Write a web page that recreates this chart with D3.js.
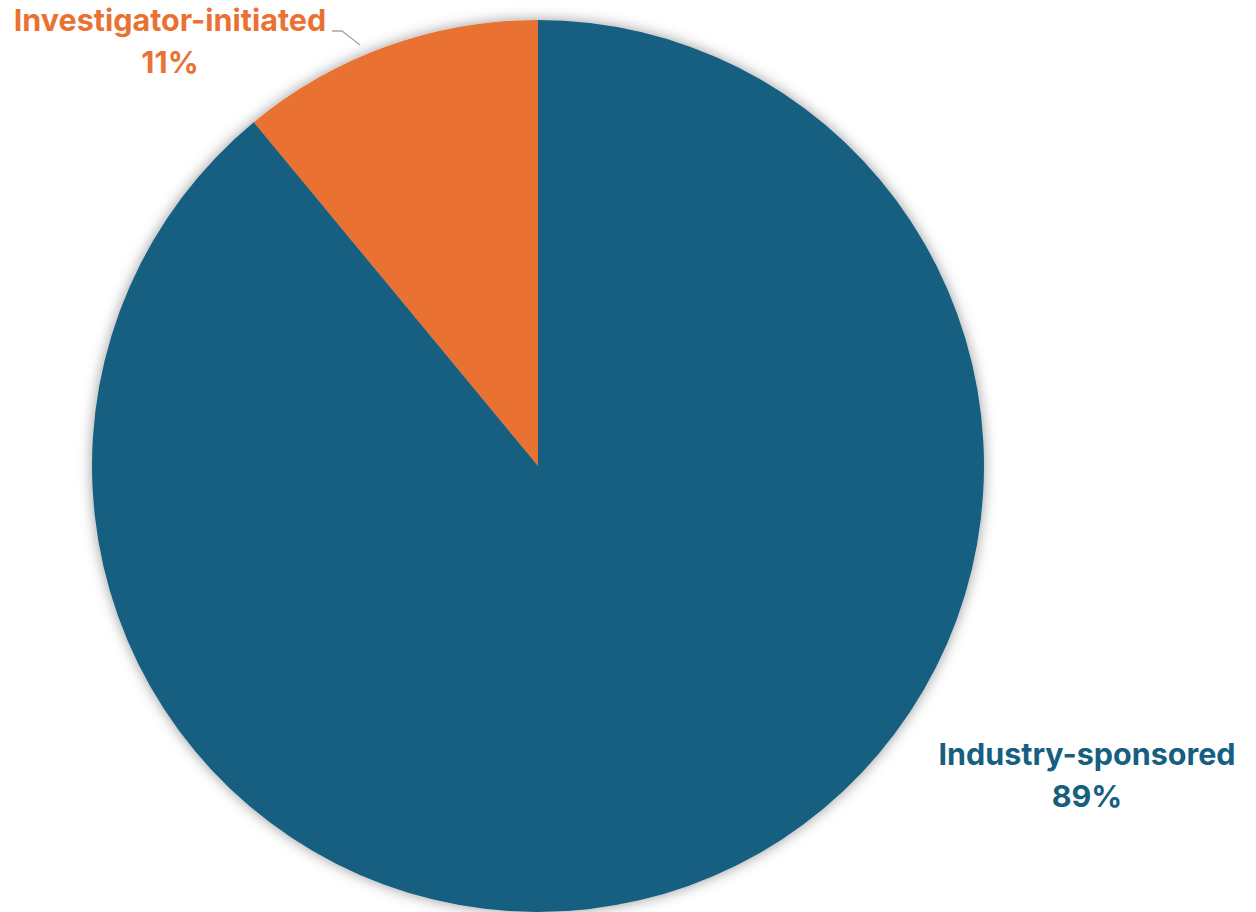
<!DOCTYPE html>
<html lang="en">
<head>
    <meta charset="UTF-8">
    <title>Study sponsorship</title>
    <script src="https://d3js.org/d3.v7.min.js"></script>
    <style>
        html, body { margin: 0; padding: 0; background: #fff; }
        .lbl { font-family: Inter, "Open Sans", sans-serif; font-weight: 700; font-size: 30.5px; }
    </style>
</head>
<body>
    <div id="chart"></div>
    <script>
        // Chart data
        const categories = ["Investigator-initiated", "Industry-sponsored"];
        const shares = [11, 89];
        const colors = ["#E97132", "#175F80"];

        const width = 1256, height = 912;
        const cx = 538, cy = 466, radius = 446;

        const svg = d3.select("#chart").append("svg")
            .attr("width", width)
            .attr("height", height);

        // soft shadow behind the pie
        const filter = svg.append("defs").append("filter")
            .attr("id", "shadow")
            .attr("x", "-10%").attr("y", "-10%")
            .attr("width", "120%").attr("height", "120%");
        filter.append("feDropShadow")
            .attr("dx", 0).attr("dy", 0)
            .attr("stdDeviation", 7)
            .attr("flood-color", "#000")
            .attr("flood-opacity", 0.4);

        const data = categories.map((c, i) => ({ name: c, value: shares[i], color: colors[i] }));

        // orange slice sits counter-clockwise from 12 o'clock
        const pie = d3.pie()
            .value(d => d.value)
            .sort(null)
            .startAngle(-2 * Math.PI * shares[0] / 100)
            .endAngle(2 * Math.PI - 2 * Math.PI * shares[0] / 100);

        const arc = d3.arc().innerRadius(0).outerRadius(radius);

        const g = svg.append("g")
            .attr("transform", `translate(${cx},${cy})`)
            .attr("filter", "url(#shadow)");

        g.selectAll("path")
            .data(pie(data))
            .enter()
            .append("path")
            .attr("d", arc)
            .attr("fill", d => d.data.color);

        // leader line for the small slice
        svg.append("polyline")
            .attr("points", "332,31 342,31 360,45")
            .attr("fill", "none")
            .attr("stroke", "#a6a6a6")
            .attr("stroke-width", 1.3);

        // labels
        const labelPos = [
            { x: 170, y: 31, dy: 42 },
            { x: 1087, y: 765, dy: 42 }
        ];

        data.forEach((d, i) => {
            const t = svg.append("text")
                .attr("class", "lbl")
                .attr("text-anchor", "middle")
                .attr("fill", d.color);
            t.append("tspan").attr("x", labelPos[i].x).attr("y", labelPos[i].y).text(d.name);
            t.append("tspan").attr("x", labelPos[i].x).attr("y", labelPos[i].y + labelPos[i].dy).text(d.value + "%");
        });
    </script>
</body>
</html>
